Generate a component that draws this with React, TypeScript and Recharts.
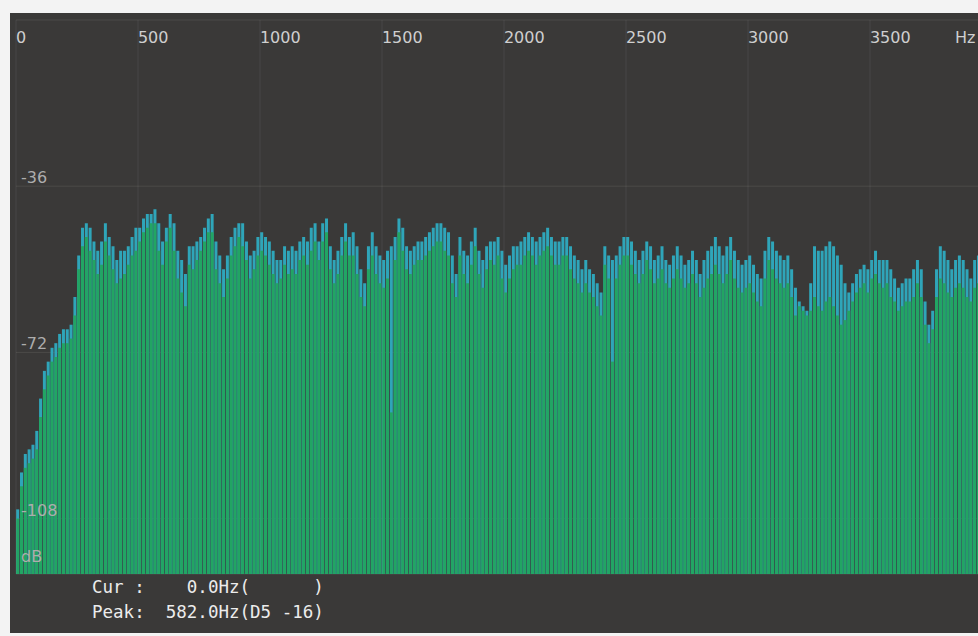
import React from 'react'
import { BarChart, Bar, XAxis, YAxis, CartesianGrid, ReferenceLine } from 'recharts'

// spectrum: 256 bins of 15.625 Hz (0..4000 Hz), levels in dB
const BIN_HZ = 15.625
const FLOOR_DB = -120

// peak hold (cyan)
const peakDb = [
  -106, -98, -94, -93, -92, -89, -82, -76, -74, -71,
  -70, -68, -67, -67, -66, -60, -51, -45, -44, -45,
  -48, -50, -48, -44, -47, -49, -52, -50, -50, -49,
  -47, -45, -45, -43, -42, -42, -41, -44, -48, -45,
  -42, -44, -50, -52, -55, -49, -49, -48, -47, -45,
  -43, -42, -48, -51, -54, -51, -47, -45, -44, -44,
  -48, -51, -50, -47, -46, -47, -48, -50, -52, -52,
  -49, -50, -49, -50, -48, -47, -48, -45, -44, -48,
  -44, -43, -49, -52, -50, -47, -44, -47, -46, -49,
  -54, -57, -49, -46, -49, -51, -52, -50, -49, -47,
  -43, -45, -49, -50, -49, -48, -48, -47, -46, -45,
  -44, -44, -45, -46, -51, -55, -47, -50, -51, -48,
  -45, -50, -52, -49, -48, -48, -47, -50, -53, -51,
  -49, -49, -48, -47, -46, -47, -48, -47, -46, -45,
  -47, -48, -48, -47, -47, -49, -51, -52, -54, -52,
  -54, -55, -57, -59, -49, -51, -52, -51, -49, -47,
  -47, -48, -50, -52, -50, -48, -49, -52, -51, -49,
  -52, -53, -51, -49, -51, -53, -52, -50, -52, -55,
  -52, -50, -49, -47, -49, -51, -49, -47, -50, -52,
  -53, -52, -51, -53, -55, -56, -50, -47, -48, -50,
  -51, -52, -51, -54, -58, -61, -62, -63, -57, -49,
  -50, -50, -49, -48, -49, -51, -53, -57, -59, -57,
  -55, -54, -53, -54, -52, -50, -52, -52, -52, -54,
  -56, -58, -57, -56, -56, -54, -52, -54, -61, -66,
  -63, -54, -49, -50, -52, -54, -52, -51, -52, -54,
  -56, -52, -51, -51, -52, -52,
]

// current level (green)
const curDb = [
  -108, -101, -97, -96, -95, -93, -86, -80, -77, -74,
  -73, -71, -70, -70, -69, -64, -54, -49, -47, -50,
  -52, -55, -53, -48, -51, -54, -57, -56, -55, -53,
  -51, -50, -48, -46, -45, -44, -44, -50, -53, -48,
  -45, -50, -56, -59, -62, -53, -54, -52, -50, -48,
  -46, -46, -54, -57, -60, -56, -51, -49, -47, -49,
  -52, -56, -54, -51, -50, -51, -53, -55, -57, -56,
  -53, -55, -54, -55, -52, -51, -53, -50, -48, -52,
  -48, -46, -54, -57, -55, -51, -48, -51, -51, -55,
  -60, -62, -54, -51, -55, -57, -58, -56, -85, -52,
  -46, -50, -54, -55, -53, -52, -52, -51, -50, -49,
  -48, -48, -50, -51, -57, -60, -51, -55, -57, -53,
  -49, -55, -58, -54, -52, -53, -51, -56, -59, -56,
  -54, -53, -53, -51, -50, -51, -53, -51, -50, -49,
  -51, -53, -53, -51, -51, -54, -56, -57, -59, -57,
  -59, -60, -62, -64, -53, -56, -74, -56, -53, -51,
  -51, -53, -55, -57, -55, -52, -54, -57, -56, -54,
  -57, -58, -56, -54, -56, -58, -57, -55, -57, -60,
  -58, -56, -55, -53, -55, -57, -55, -52, -56, -58,
  -59, -58, -57, -59, -61, -62, -56, -52, -54, -56,
  -57, -58, -57, -60, -64, -62, -63, -64, -63, -60,
  -62, -63, -61, -60, -62, -64, -66, -65, -63, -61,
  -59, -58, -57, -59, -56, -55, -57, -58, -57, -60,
  -61, -63, -62, -61, -61, -60, -57, -60, -66, -70,
  -67, -60, -56, -57, -59, -60, -58, -57, -58, -60,
  -61, -58, -57, -57, -58, -58,
]

const hzTicks = [0, 500, 1000, 1500, 2000, 2500, 3000, 3500]
const dbTicks = [0, -36, -72, -108, -120]

const data = peakDb.map((p, i) => ({ hz: i * BIN_HZ, peak: p, cur: curDb[i] }))

const PLOT_TOP = 20
const LABEL_FONT = '"DejaVu Sans", sans-serif'
const GRID = '#4b4a48'

const HzTick = (props: any) => {
  const { x, payload } = props
  return (
    <text x={x - 2} y={PLOT_TOP + 23} fill="#cfcfcf" fontSize={16} fontFamily={LABEL_FONT} textAnchor="start">
      {Math.round(payload.value)}
    </text>
  )
}

const DbTick = (props: any) => {
  const { y, payload } = props
  const v = payload.value
  if (v === 0) return <g />
  const label = v === FLOOR_DB ? 'dB' : String(v)
  const dy = v === FLOOR_DB ? -12 : -3
  return (
    <text x={21} y={y + dy} fill="#adadad" fontSize={16} fontFamily={LABEL_FONT} textAnchor="start">
      {label}
    </text>
  )
}

const monoStyle: React.CSSProperties = {
  position: 'absolute',
  left: 92,
  fontFamily: '"DejaVu Sans Mono", monospace',
  fontSize: 17.5,
  color: '#ececec',
  whiteSpace: 'pre',
  lineHeight: '20px',
}

export default function App() {
  return (
    <div style={{ position: 'absolute', left: 0, top: 0, width: 978, height: 636, overflow: 'hidden', background: '#f3f3f3' }}>
      <div style={{ position: 'absolute', left: 10, top: 13, right: 0, bottom: 3, background: '#3a3938' }} />
      <div style={{ position: 'absolute', left: 0, top: 0 }}>
        <BarChart
          width={992}
          height={636}
          data={data}
          margin={{ top: 0, right: 0, bottom: 62, left: 0 }}
          barCategoryGap={0.2}
        >
          <CartesianGrid stroke={GRID} strokeWidth={1} vertical={false} />
          <XAxis
            xAxisId="hz"
            dataKey="hz"
            orientation="top"
            height={PLOT_TOP}
            ticks={hzTicks}
            interval={0}
            tickLine={false}
            axisLine={false}
            tick={HzTick}
          />
          <XAxis xAxisId="cur" dataKey="hz" hide />
          <YAxis
            domain={[FLOOR_DB, 0]}
            ticks={dbTicks}
            width={16}
            tickLine={false}
            axisLine={false}
            tick={DbTick}
            allowDataOverflow
          />
          {hzTicks.map((t) => (
            <ReferenceLine key={t} xAxisId="hz" x={t} position="start" stroke="rgba(255,255,255,0.07)" strokeWidth={1} />
          ))}
          <Bar
            xAxisId="hz"
            dataKey={(d: any) => [FLOOR_DB, d.peak]}
            fill="#2fa5b9"
            isAnimationActive={false}
          />
          <Bar
            xAxisId="cur"
            dataKey={(d: any) => [FLOOR_DB, d.cur]}
            fill="#22a563"
            isAnimationActive={false}
          />
        </BarChart>
      </div>
      <div style={{ position: 'absolute', left: 955, top: 28, fontFamily: LABEL_FONT, fontSize: 16, color: '#cfcfcf' }}>Hz</div>
      <div style={{ ...monoStyle, top: 577 }}>{'Cur :    0.0Hz(      )'}</div>
      <div style={{ ...monoStyle, top: 602 }}>{'Peak:  582.0Hz(D5 -16)'}</div>
    </div>
  )
}
